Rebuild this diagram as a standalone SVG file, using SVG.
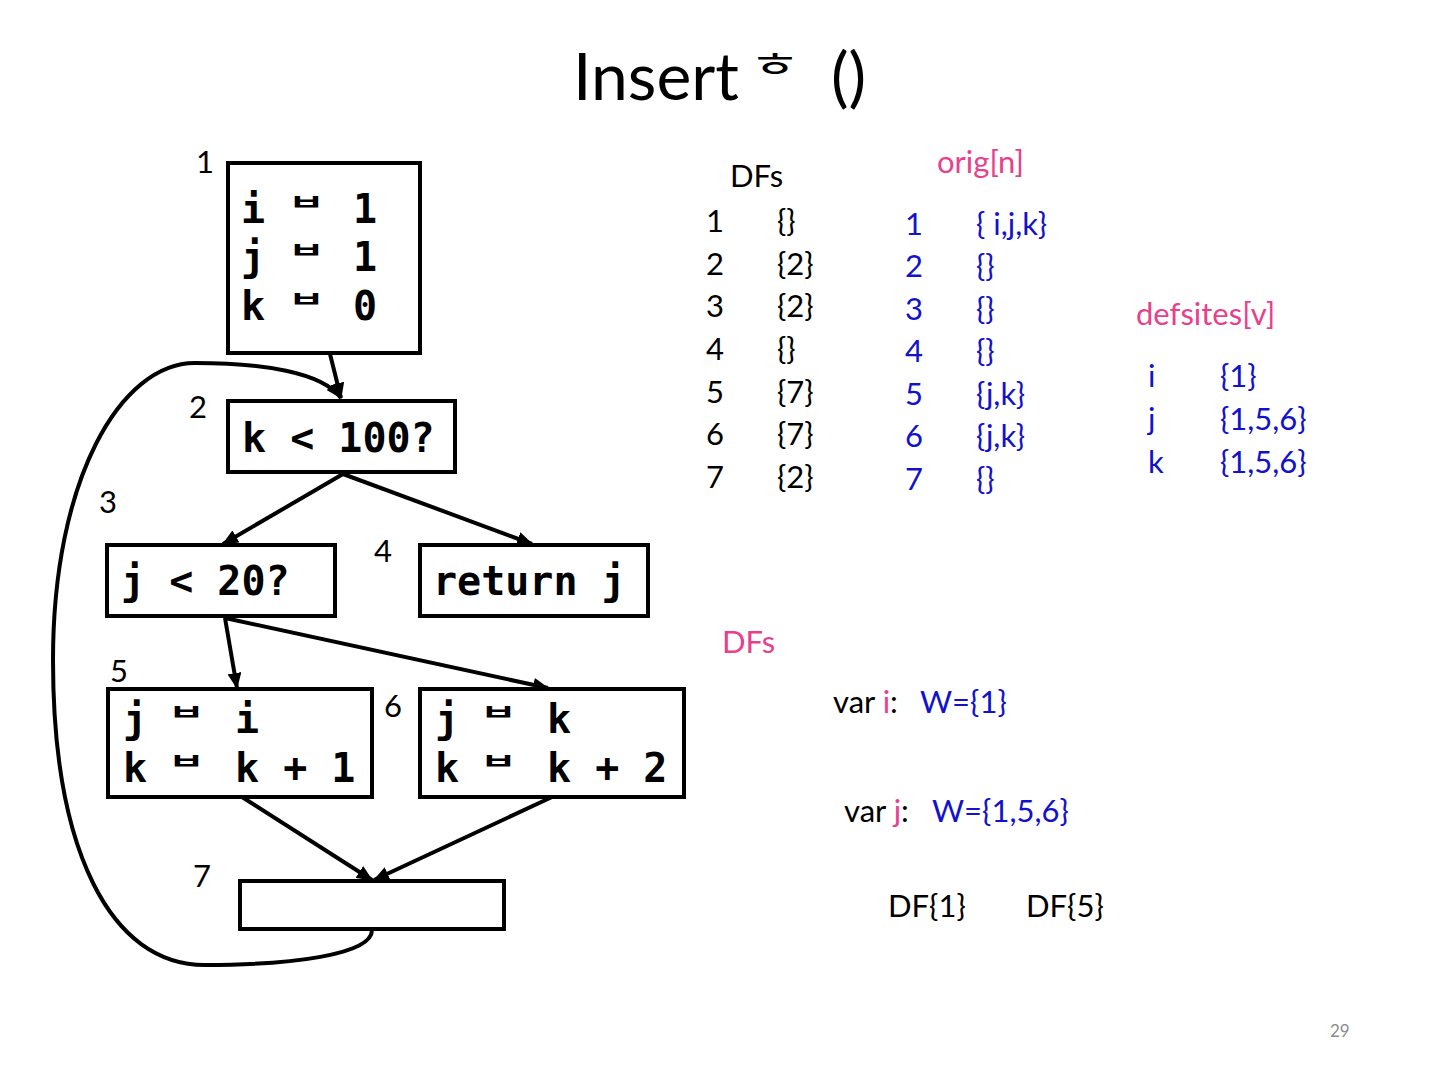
<svg xmlns="http://www.w3.org/2000/svg" width="1440" height="1080" viewBox="0 0 1440 1080">
<defs>
<marker id="ah" markerUnits="userSpaceOnUse" markerWidth="16" markerHeight="14" refX="15" refY="7" orient="auto">
<path d="M0,0 L16,7 L0,14 z" fill="#000"/>
</marker>
<style>
.box{fill:#fff;stroke:#000;stroke-width:4}
.code{font-family:"DejaVu Sans Mono","Liberation Mono",monospace;font-weight:bold;font-size:40px;fill:#000}
.asg{font-family:"Noto Sans CJK KR","Noto Sans CJK SC",sans-serif;font-weight:bold;font-size:40px;fill:#000}
.t{font-family:Lato,"Open Sans","Noto Sans",sans-serif;font-size:31px;fill:#000}
.pk{fill:#E8408C}
.bl{fill:#1212CC}
.edge{fill:none;stroke:#000;stroke-width:4;marker-end:url(#ah)}
</style>
</defs>
<rect width="1440" height="1080" fill="#fff"/>

<g id="title">
<text x="573" y="100" style="font-family:Lato,'Open Sans',sans-serif;font-size:66px;fill:#000">Insert</text>
<text transform="translate(749,77) scale(1,0.63)" style="font-family:'Noto Sans CJK KR',sans-serif;font-size:56px;fill:#000">ㅎ</text>
<text x="831" y="100" style="font-family:Lato,'Open Sans',sans-serif;font-size:66px;fill:#000">()</text>
</g>

<g id="edges">
<path class="edge" d="M330,354 L341,398"/>
<path class="edge" d="M372,930 C372,955 290,965 205,965 C110,965 53,850 53,660 C53,480 120,363 195,363 C262,363 322,372 341,398"/>
<path class="edge" d="M343,474 L223,544"/>
<path class="edge" d="M343,474 L532,544"/>
<path class="edge" d="M225,618 L237,688"/>
<path class="edge" d="M225,618 L548,688"/>
<path class="edge" d="M242,797 L372,880"/>
<path class="edge" d="M552,797 L374,880"/>
</g>

<g id="node1">
<rect class="box" x="228" y="163" width="192" height="190"/>
<text class="code" x="241" y="223">i</text><text class="asg" transform="translate(288,210) scale(1,0.55)">ㅂ</text><text class="code" x="353" y="223">1</text>
<text class="code" x="241" y="271">j</text><text class="asg" transform="translate(288,258) scale(1,0.55)">ㅂ</text><text class="code" x="353" y="271">1</text>
<text class="code" x="241" y="320">k</text><text class="asg" transform="translate(288,307) scale(1,0.55)">ㅂ</text><text class="code" x="353" y="320">0</text>
<text class="t" x="196" y="173">1</text>
</g>

<g id="node2">
<rect class="box" x="228" y="401" width="227" height="71"/>
<text class="code" x="242" y="452" xml:space="preserve">k &lt; 100?</text>
<text class="t" x="189" y="418">2</text>
</g>

<g id="node3">
<rect class="box" x="107" y="545" width="228" height="71"/>
<text class="code" x="121" y="595" xml:space="preserve">j &lt; 20?</text>
<text class="t" x="99" y="513">3</text>
</g>

<g id="node4">
<rect class="box" x="420" y="545" width="228" height="71"/>
<text class="code" x="433" y="595" xml:space="preserve">return j</text>
<text class="t" x="374" y="562">4</text>
</g>

<g id="node5">
<rect class="box" x="108" y="689" width="264" height="108"/>
<text class="code" x="123" y="733">j</text><text class="asg" transform="translate(168,720) scale(1,0.55)">ㅂ</text><text class="code" x="235" y="733">i</text>
<text class="code" x="123" y="782">k</text><text class="asg" transform="translate(168,769) scale(1,0.55)">ㅂ</text><text class="code" x="235" y="782" xml:space="preserve">k + 1</text>
<text class="t" x="110" y="682">5</text>
</g>

<g id="node6">
<rect class="box" x="420" y="689" width="264" height="108"/>
<text class="code" x="435" y="733">j</text><text class="asg" transform="translate(480,720) scale(1,0.55)">ㅂ</text><text class="code" x="547" y="733">k</text>
<text class="code" x="435" y="782">k</text><text class="asg" transform="translate(480,769) scale(1,0.55)">ㅂ</text><text class="code" x="547" y="782" xml:space="preserve">k + 2</text>
<text class="t" x="384" y="717">6</text>
</g>

<g id="node7">
<rect class="box" x="240" y="881" width="264" height="48"/>
<text class="t" x="193" y="887">7</text>
</g>

<g id="dfs-table">
<text class="t" x="730" y="187">DFs</text>
<text class="t" x="706" y="232">1</text><text class="t" x="777" y="232">{}</text>
<text class="t" x="706" y="275">2</text><text class="t" x="777" y="275">{2}</text>
<text class="t" x="706" y="317">3</text><text class="t" x="777" y="317">{2}</text>
<text class="t" x="706" y="360">4</text><text class="t" x="777" y="360">{}</text>
<text class="t" x="706" y="403">5</text><text class="t" x="777" y="403">{7}</text>
<text class="t" x="706" y="445">6</text><text class="t" x="777" y="445">{7}</text>
<text class="t" x="706" y="488">7</text><text class="t" x="777" y="488">{2}</text>
</g>

<g id="orig-table">
<text class="t pk" x="937" y="173">orig[n]</text>
<text class="t bl" x="905" y="235">1</text><text class="t bl" x="976" y="235" xml:space="preserve">{ i,j,k}</text>
<text class="t bl" x="905" y="277">2</text><text class="t bl" x="976" y="277">{}</text>
<text class="t bl" x="905" y="320">3</text><text class="t bl" x="976" y="320">{}</text>
<text class="t bl" x="905" y="362">4</text><text class="t bl" x="976" y="362">{}</text>
<text class="t bl" x="905" y="405">5</text><text class="t bl" x="976" y="405">{j,k}</text>
<text class="t bl" x="905" y="447">6</text><text class="t bl" x="976" y="447">{j,k}</text>
<text class="t bl" x="905" y="490">7</text><text class="t bl" x="976" y="490">{}</text>
</g>

<g id="defsites">
<text class="t pk" x="1136" y="325">defsites[v]</text>
<text class="t bl" x="1148" y="387">i</text><text class="t bl" x="1220" y="387">{1}</text>
<text class="t bl" x="1148" y="430">j</text><text class="t bl" x="1220" y="430">{1,5,6}</text>
<text class="t bl" x="1148" y="473">k</text><text class="t bl" x="1220" y="473">{1,5,6}</text>
</g>

<g id="worklist">
<text class="t pk" x="722" y="653">DFs</text>
<text class="t" x="833" y="713">var <tspan class="pk">i</tspan>:</text><text class="t bl" x="920" y="713">W={1}</text>
<text class="t" x="844" y="822">var <tspan class="pk">j</tspan>:</text><text class="t bl" x="932" y="822">W={1,5,6}</text>
<text class="t" x="888" y="917">DF{1}</text>
<text class="t" x="1026" y="917">DF{5}</text>
</g>

<text x="1330" y="1037" style="font-family:Lato,'Open Sans',sans-serif;font-size:17px;fill:#8c8c8c">29</text>
</svg>
